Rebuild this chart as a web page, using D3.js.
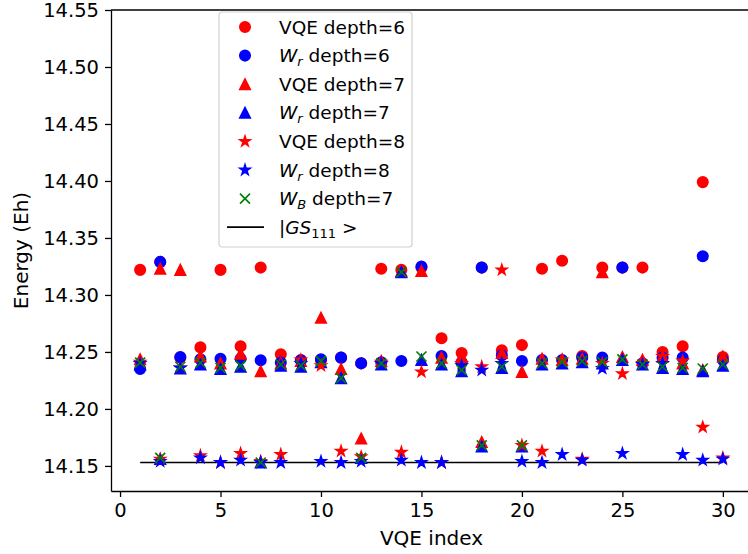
<!DOCTYPE html>
<html>
<head>
<meta charset="utf-8">
<script src="https://cdn.jsdelivr.net/npm/d3@7"></script>
<style>
  body { margin: 0; background: #fff; }
  svg { display: block; font-family: "DejaVu Sans", sans-serif; }
</style>
</head>
<body>
<div id="chart"></div>
<script>
// VQE index 1..30
const vqeIndex = d3.range(1, 31);

const vqeDepth6 = [14.322, 14.329, 14.245, 14.254, 14.322, 14.255, 14.324, 14.248, 14.243, 14.243,
  14.245, 14.240, 14.323, 14.322, 14.324, 14.262, 14.249, 14.324, 14.2515, 14.256,
  14.323, 14.330, 14.2465, 14.324, 14.324, 14.324, 14.250, 14.255, 14.399, 14.2455];
const wrDepth6 = [14.235, 14.329, 14.2455, 14.2435, 14.244, 14.244, 14.2427, 14.2407, 14.2427, 14.2436,
  14.245, 14.240, 14.241, 14.242, 14.325, 14.2465, 14.241, 14.324, 14.247, 14.242,
  14.243, 14.243, 14.245, 14.245, 14.324, 14.240, 14.245, 14.245, 14.334, 14.243];
const vqeDepth7 = [14.2436, 14.323, 14.322, 14.246, 14.240, 14.2485, 14.233, 14.240, 14.242, 14.280,
  14.235, 14.174, 14.242, 14.321, 14.321, 14.245, 14.246, 14.171, 14.249, 14.2325,
  14.244, 14.243, 14.244, 14.320, 14.2455, 14.243, 14.246, 14.240, 14.234, 14.246];
const wrDepth7 = [14.239, 14.156, 14.2355, 14.239, 14.235, 14.237, 14.153, 14.238, 14.237, 14.241,
  14.227, 14.157, 14.239, 14.320, 14.243, 14.239, 14.233, 14.167, 14.236, 14.167,
  14.239, 14.240, 14.241, 14.240, 14.243, 14.239, 14.236, 14.235, 14.233, 14.238];
const vqeDepth8 = [14.241, 14.156, 14.236, 14.159, 14.153, 14.161, 14.154, 14.160, 14.243, 14.238,
  14.163, 14.158, 14.241, 14.162, 14.2325, 14.153, 14.240, 14.237, 14.322, 14.168,
  14.163, 14.243, 14.156, 14.240, 14.231, 14.240, 14.246, 14.242, 14.184, 14.157];
const wrDepth8 = [14.240, 14.154, 14.236, 14.157, 14.153, 14.155, 14.153, 14.153, 14.240, 14.154,
  14.153, 14.154, 14.240, 14.155, 14.153, 14.153, 14.238, 14.234, 14.240, 14.154,
  14.153, 14.160, 14.155, 14.2355, 14.161, 14.239, 14.240, 14.160, 14.155, 14.156];
const wbDepth7 = [14.2407, 14.157, 14.237, 14.2405, 14.236, 14.238, 14.153, 14.239, 14.238, 14.242,
  14.227, 14.157, 14.240, 14.320, 14.246, 14.240, 14.234, 14.168, 14.237, 14.168,
  14.240, 14.241, 14.242, 14.241, 14.2435, 14.239, 14.237, 14.236, 14.2355, 14.239];
const gs111 = 14.153;

const yTicks = [14.15, 14.20, 14.25, 14.30, 14.35, 14.40, 14.45, 14.50, 14.55];
const xTicks = [0, 5, 10, 15, 20, 25, 30];

// custom marker shapes, size = half width in px
const triUp = { draw(ctx, r) { ctx.moveTo(0, -r); ctx.lineTo(-r, r); ctx.lineTo(r, r); ctx.closePath(); } };
const star5 = { draw(ctx, r) {
  const ri = r * 0.381966;
  for (let i = 0; i < 10; i++) {
    const a = -Math.PI / 2 + i * Math.PI / 5, rr = i % 2 ? ri : r;
    i ? ctx.lineTo(rr * Math.cos(a), rr * Math.sin(a)) : ctx.moveTo(rr * Math.cos(a), rr * Math.sin(a));
  }
  ctx.closePath();
} };
const xMark = { draw(ctx, r) { ctx.moveTo(-r, -r); ctx.lineTo(r, r); ctx.moveTo(-r, r); ctx.lineTo(r, -r); } };
const circ = { draw(ctx, r) { ctx.moveTo(r, 0); ctx.arc(0, 0, r, 0, 2 * Math.PI); } };

const series = [
  { name: "VQE depth=6", values: vqeDepth6, color: "#ff0000", shape: circ, r: 5.2 },
  { name: "W_r depth=6", values: wrDepth6, color: "#0000ff", shape: circ, r: 5.2 },
  { name: "VQE depth=7", values: vqeDepth7, color: "#ff0000", shape: triUp, r: 5.2 },
  { name: "W_r depth=7", values: wrDepth7, color: "#0000ff", shape: triUp, r: 5.2 },
  { name: "VQE depth=8", values: vqeDepth8, color: "#ff0000", shape: star5, r: 5.2 },
  { name: "W_r depth=8", values: wrDepth8, color: "#0000ff", shape: star5, r: 5.2 },
  { name: "W_B depth=7", values: wbDepth7, color: "#008000", shape: xMark, r: 5, stroke: true }
];

const width = 748, height = 554;
const margin = { top: 10, right: -4, bottom: 63, left: 111 };
const innerW = width - margin.left - margin.right;
const innerH = height - margin.top - margin.bottom;

const svg = d3.select("#chart").append("svg")
  .attr("width", width)
  .attr("height", height);

const g = svg.append("g")
  .attr("transform", `translate(${margin.left},${margin.top})`);

const x = d3.scaleLinear().domain([-0.45, 31.45]).range([0, innerW]);
const y = d3.scaleLinear().domain([14.128, 14.55]).range([innerH, 0]);

// axes
const xAxis = g.append("g")
  .attr("transform", `translate(0,${innerH})`)
  .call(d3.axisBottom(x).tickValues(xTicks).tickSize(6).tickSizeOuter(0).tickPadding(6).tickFormat(d3.format("d")));
const yAxis = g.append("g")
  .call(d3.axisLeft(y).tickValues(yTicks).tickSize(6).tickSizeOuter(0).tickPadding(6).tickFormat(d3.format(".2f")));

[xAxis, yAxis].forEach(a => {
  a.selectAll("text").attr("font-size", 19.5).attr("fill", "#000").attr("font-family", "DejaVu Sans");
  a.selectAll("line").attr("stroke", "#000").attr("stroke-width", 1.3);
  a.select(".domain").attr("stroke", "#000").attr("stroke-width", 1.3);
});

// top frame (right spine falls outside the picture)
g.append("line").attr("x1", 0).attr("x2", innerW).attr("y1", 0).attr("y2", 0)
  .attr("stroke", "#000").attr("stroke-width", 1.3);

// ground state line
g.append("line")
  .attr("x1", x(1)).attr("x2", x(30))
  .attr("y1", y(gs111)).attr("y2", y(gs111))
  .attr("stroke", "#000").attr("stroke-width", 1.7);

// markers
series.forEach(s => {
  const sym = d3.symbol().type(s.shape).size(s.r);
  g.append("g").selectAll("path")
    .data(s.values.map((v, i) => [vqeIndex[i], v]))
    .join("path")
    .attr("transform", d => `translate(${x(d[0])},${y(d[1])})`)
    .attr("d", sym)
    .attr("fill", s.stroke ? "none" : s.color)
    .attr("stroke", s.color)
    .attr("stroke-width", 1.67)
    .attr("stroke-linejoin", "miter");
});

// axis labels
svg.append("text")
  .attr("x", margin.left + innerW / 2).attr("y", 545)
  .attr("text-anchor", "middle").attr("font-size", 20)
  .text("VQE index");
svg.append("text")
  .attr("transform", `translate(28,${margin.top + innerH / 2}) rotate(-90)`)
  .attr("text-anchor", "middle").attr("font-size", 20)
  .text("Energy (Eh)");

// legend
const lg = svg.append("g").attr("transform", "translate(219,12)");
lg.append("rect")
  .attr("width", 193).attr("height", 235).attr("rx", 3)
  .attr("fill", "#fff").attr("fill-opacity", 0.8)
  .attr("stroke", "#d0d0d0").attr("stroke-width", 1.2);

const rowY = i => 15 + i * 28.6;
series.forEach((s, i) => {
  lg.append("path")
    .attr("transform", `translate(26,${rowY(i)})`)
    .attr("d", d3.symbol().type(s.shape).size(s.r)())
    .attr("fill", s.stroke ? "none" : s.color)
    .attr("stroke", s.color).attr("stroke-width", 1.67);
  const t = lg.append("text").attr("x", 60).attr("y", rowY(i)).attr("dy", "0.36em")
    .attr("font-size", 18.5);
  if (s.name.startsWith("W_")) {
    const parts = s.name.split(" ");
    const sub = parts[0].slice(2);
    t.append("tspan").attr("font-style", "italic").text("W");
    t.append("tspan").attr("font-style", "italic").attr("font-size", 13).attr("dy", 4).text(sub);
    t.append("tspan").attr("dy", -4).text(" " + parts.slice(1).join(" "));
  } else {
    t.text(s.name);
  }
});
// line entry
const ly = rowY(7);
lg.append("line").attr("x1", 8).attr("x2", 45).attr("y1", ly).attr("y2", ly)
  .attr("stroke", "#000").attr("stroke-width", 1.7);
const tl = lg.append("text").attr("x", 60).attr("y", ly).attr("dy", "0.36em").attr("font-size", 18.5);
tl.append("tspan").text("|");
tl.append("tspan").attr("font-style", "italic").text("GS");
tl.append("tspan").attr("font-size", 13).attr("dy", 4).text("111");
tl.append("tspan").attr("dy", -4).text(" >");
</script>
</body>
</html>
